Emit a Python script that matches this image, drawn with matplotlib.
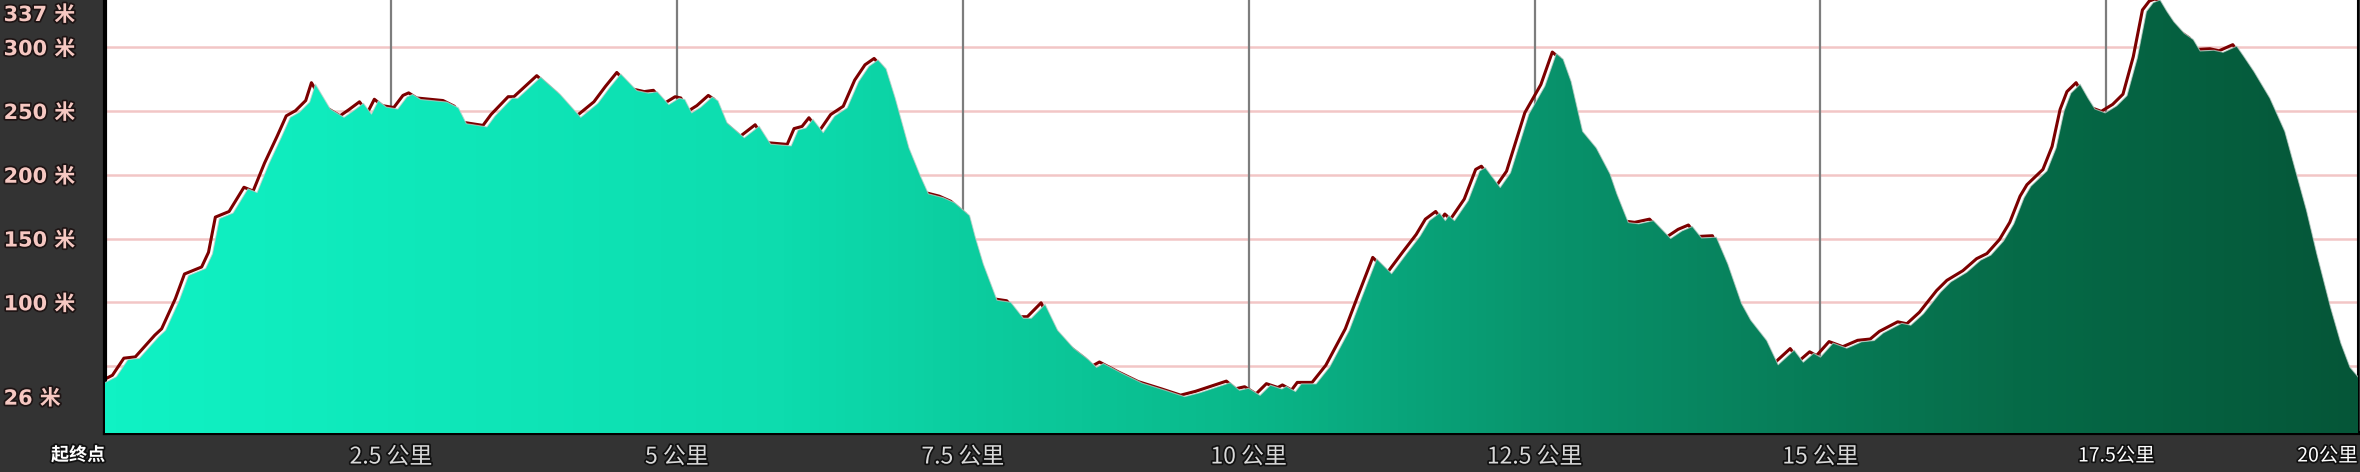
import numpy as np
import matplotlib
matplotlib.use('Agg')
import matplotlib.pyplot as plt
import matplotlib.patheffects as pe
from matplotlib.colors import LinearSegmentedColormap
from matplotlib.transforms import ScaledTranslation

# elevation profile (distance in km, elevation in m)
dist_km = [0.0, 0.1, 0.2, 0.3, 0.47, 0.53, 0.65, 0.73, 0.88, 0.94, 1.0, 1.12, 1.25, 1.33, 1.43,
           1.54, 1.62, 1.7, 1.79, 1.84, 1.9, 1.97, 2.09, 2.17, 2.26, 2.33, 2.39, 2.46, 2.56, 2.64,
           2.69, 2.76, 2.88, 2.99, 3.09, 3.16, 3.34, 3.41, 3.56, 3.61, 3.81, 3.98, 4.16, 4.31, 4.41,
           4.51, 4.65, 4.75, 4.83, 4.93, 5.02, 5.07, 5.13, 5.21, 5.31, 5.36, 5.44, 5.59, 5.72, 5.82,
           6.0, 6.06, 6.13, 6.19, 6.28, 6.38, 6.49, 6.59, 6.68, 6.76, 6.83, 6.91, 7.03, 7.13, 7.2,
           7.33, 7.43, 7.56, 7.61, 7.68, 7.8, 7.92, 8.03, 8.1, 8.22, 8.33, 8.47, 8.6, 8.67, 8.73,
           8.9, 9.07, 9.27, 9.44, 9.57, 9.74, 9.84, 9.92, 10.0, 10.1, 10.19, 10.29, 10.33, 10.41,
           10.46, 10.59, 10.71, 10.88, 10.98, 11.12, 11.25, 11.38, 11.5, 11.58, 11.67, 11.72, 11.75,
           11.8, 11.92, 12.02, 12.07, 12.2, 12.29, 12.45, 12.59, 12.69, 12.75, 12.82, 12.92, 13.04,
           13.16, 13.22, 13.32, 13.41, 13.54, 13.69, 13.79, 13.88, 13.96, 14.09, 14.19, 14.31,
           14.39, 14.53, 14.63, 14.77, 14.85, 14.94, 15.0, 15.11, 15.23, 15.36, 15.47, 15.55,
           15.71, 15.79, 15.9, 16.05, 16.14, 16.28, 16.4, 16.49, 16.6, 16.69, 16.78, 16.84, 16.98,
           17.06, 17.13, 17.19, 17.27, 17.34, 17.4, 17.49, 17.59, 17.68, 17.77, 17.85, 17.91,
           17.97, 18.03, 18.09, 18.18, 18.26, 18.32, 18.44, 18.52, 18.64, 18.7, 18.79, 18.93,
           19.06, 19.17, 19.25, 19.34, 19.46, 19.55, 19.63, 19.7]
elev_m = [37, 41.6, 55, 56, 73, 78, 101.6, 121, 126.5, 138, 165.6, 170, 189, 186, 208,
          229, 245, 249, 257, 271, 262, 251.5, 245, 250, 256, 247.5, 258, 253, 251.5, 261,
          263, 259, 258, 257, 252.5, 240, 237.5, 246, 260, 260, 276.5, 263, 245, 256, 268,
          279, 266, 264, 265, 255, 260, 259, 248.5, 253, 261, 258, 240.6, 229, 238, 224,
          222.6, 235, 236.7, 243.5, 233, 246, 252.5, 273, 285, 290, 283, 260, 221, 199, 185,
          182, 178, 168, 151, 130, 101.6, 100, 87.5, 87.5, 98.4, 78, 64, 55, 49, 52,
          44, 36.6, 31, 26, 29, 34, 37, 31, 32.6, 27, 35, 32, 34, 30,
          36, 36, 49.5, 78, 101.6, 134, 122.4, 138, 152, 164, 170, 164, 168,
          164, 179.7, 203, 205.5, 190, 201.6, 247.5, 269.5, 295, 290.6, 273, 234, 221,
          200.6, 185, 162.5, 161.5, 164, 150, 156, 159.4, 150.4, 151, 130, 99,
          86, 70, 51, 62.5, 53, 60, 57, 68, 64, 69, 70, 76,
          83.5, 82, 91, 108, 116, 123.6, 133, 137, 148, 161.5, 182, 191, 203,
          221, 250, 264, 271, 260, 251.5, 248.5, 254, 262, 291.4, 328, 335,
          337, 328, 320, 311, 306, 297, 297.6, 296, 300.8, 293, 281, 260,
          234, 198, 172, 138, 96, 68, 49, 41.6]

ytick_vals = [26, 100, 150, 200, 250, 300, 337]
ytick_labels = ['26 米', '100 米', '150 米', '200 米', '250 米', '300 米', '337 米']
grid_levels = [50, 100, 150, 200, 250, 300]
xtick_vals = [0, 2.5, 5, 7.5, 10, 12.5, 15, 17.5, 19.7]
xtick_labels = ['起终点', '2.5 公里', '5 公里', '7.5 公里', '10 公里', '12.5 公里', '15 公里',
                '17.5公里', '20公里']

BG = '#333333'
fig = plt.figure(figsize=(23.6, 4.72), dpi=100, facecolor=BG)
ax = fig.add_axes([105 / 2360, 39 / 472, 2253 / 2360, 433 / 472])
ax.set_facecolor('white')
ymin, ymax = -2.5, 337
xmax = dist_km[-1]
ax.set_xlim(0, xmax)
ax.set_ylim(ymin, ymax)

for g in grid_levels:
    ax.axhline(g, color='#f2c6c6', lw=1.8, zorder=1)
for v in xtick_vals[1:-1]:
    ax.axvline(v, color='#7d7d7d', lw=1.6, zorder=1)

# red outline sits behind the fill, nudged up/left so it only shows on climbs and tops
shift = ScaledTranslation(-0.04, 0.015, fig.dpi_scale_trans)
ax.plot(dist_km, elev_m, color='#7c0000', lw=2.2, zorder=2,
        transform=ax.transData + shift, solid_joinstyle='round')

# gradient filled area
poly = ax.fill_between(dist_km, elev_m, ymin, facecolor='none', edgecolor='none', zorder=3)
cmap = LinearSegmentedColormap.from_list('elev', [
    (0.0, '#10f2c4'), (0.3, '#0ddcae'), (0.5, '#0ab98b'),
    (0.65, '#08916a'), (0.85, '#066b48'), (1.0, '#055638')])
grad = np.linspace(0, 1, 512).reshape(1, -1)
im = ax.imshow(grad, cmap=cmap, aspect='auto', extent=(0, xmax, ymin, ymax),
               zorder=3, interpolation='bilinear')
im.set_clip_path(poly.get_paths()[0], ax.transData)
ax.plot(dist_km, elev_m, color='#bfcfc8', lw=0.8, alpha=0.7, zorder=4)

ax.spines['top'].set_visible(False)
ax.spines['left'].set_color('black')
ax.spines['left'].set_linewidth(3)
ax.spines['bottom'].set_color('black')
ax.spines['bottom'].set_linewidth(3)
ax.spines['right'].set_color('black')
ax.spines['right'].set_linewidth(1.5)

ax.set_yticks(ytick_vals, ytick_labels)
ax.tick_params(axis='y', length=0, pad=73)
ylabs = ax.get_yticklabels()
for lab in ylabs:
    lab.set_horizontalalignment('left')
    lab.set_family(['DejaVu Sans', 'Noto Sans CJK SC'])
    lab.set_fontweight('bold')
    lab.set_fontsize(15)
    lab.set_color('#f6c8c2')
    lab.set_path_effects([pe.withStroke(linewidth=2.5, foreground='#1e1414')])
# top label is pushed down so it stays inside the figure
ylabs[-1].set_transform(ylabs[-1].get_transform() + ScaledTranslation(0, -0.13, fig.dpi_scale_trans))

ax.set_xticks(xtick_vals, xtick_labels)
ax.tick_params(axis='x', length=0, pad=9)
xlabs = ax.get_xticklabels()
for i, lab in enumerate(xlabs):
    lab.set_color('#d9d9d9')
    lab.set_path_effects([pe.withStroke(linewidth=2.5, foreground='#111111')])
    if i == 0:
        lab.set_family(['Noto Sans CJK SC'])
        lab.set_fontweight('bold')
        lab.set_fontsize(13)
        lab.set_color('white')
        lab.set_horizontalalignment('right')
    elif i >= len(xlabs) - 2:
        lab.set_family(['Liberation Sans Narrow', 'Noto Sans CJK SC'])
        lab.set_fontsize(14)
        lab.set_color('white')
        if i == len(xlabs) - 1:
            lab.set_horizontalalignment('right')
    else:
        lab.set_family(['Liberation Sans Narrow', 'Noto Sans CJK SC'])
        lab.set_fontsize(16.5)
xlabs[-2].set_transform(xlabs[-2].get_transform() + ScaledTranslation(0.1, 0, fig.dpi_scale_trans))

fig.savefig('out.png', dpi=100, facecolor=BG)
